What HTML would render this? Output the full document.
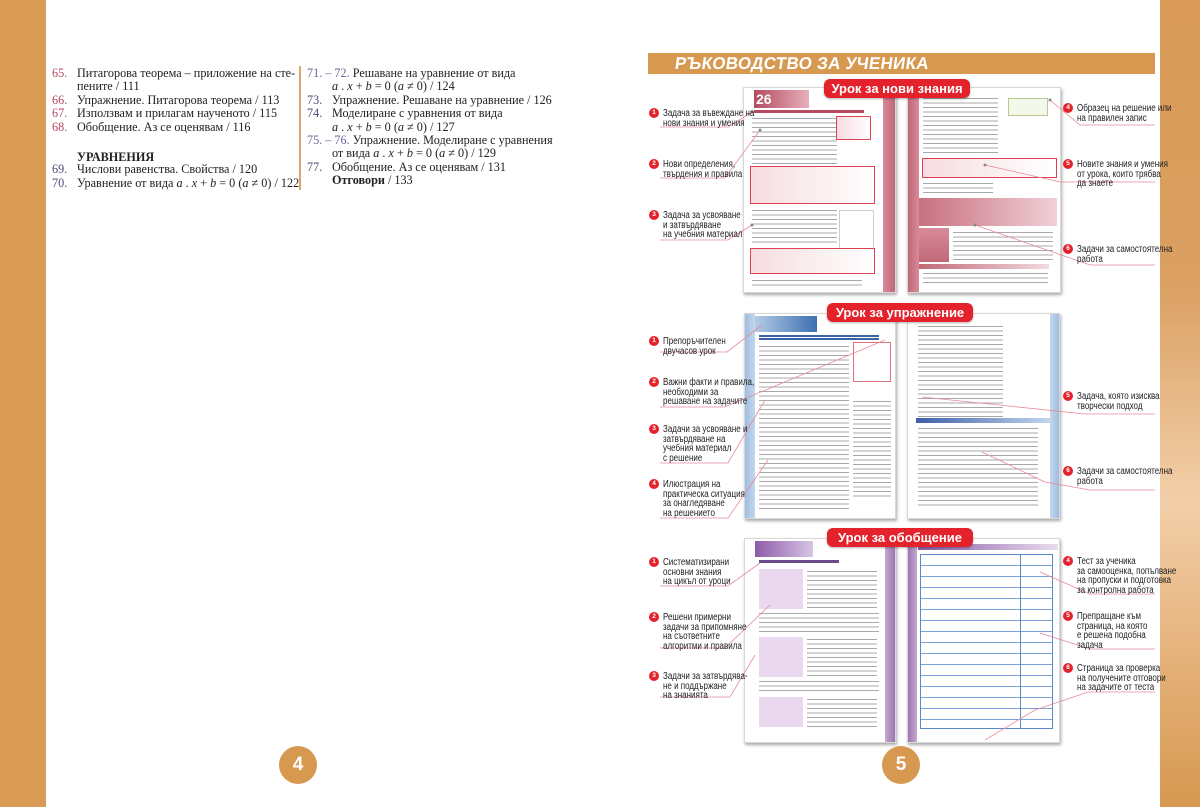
<!DOCTYPE html>
<html><head><meta charset="utf-8">
<style>
*{margin:0;padding:0;box-sizing:border-box}
body{width:1200px;height:807px;position:relative;background:#fff;overflow:hidden;font-family:"Liberation Sans",sans-serif}
.abs{position:absolute}
.toc{position:absolute;font-family:"Liberation Serif",serif;font-size:12.2px;line-height:13.4px;color:#222;white-space:nowrap}
.n1{color:#b5485e}.n2{color:#4c4c78}.n3{color:#6868a0}
.page{position:absolute;background:#fff;box-shadow:1px 2px 3px rgba(0,0,0,.35);border:1px solid #d8d8d8}
.tx{position:absolute;background:repeating-linear-gradient(#fff 0 2px,#a8a8a8 2px 3px,#fff 3px 4.5px)}
.pill{position:absolute;background:#e4222c;color:#fff;font-weight:bold;font-size:13px;text-align:center;border-radius:6px;line-height:19px;box-shadow:0 1px 2px rgba(0,0,0,.3)}
.lab{position:absolute;font-family:"Liberation Sans Narrow","Liberation Sans",sans-serif;font-size:10px;line-height:9.6px;color:#222;white-space:nowrap;transform:scaleX(.8);transform-origin:0 0}
.c{position:absolute;width:10px;height:10px;border-radius:50%;background:#e4222c;color:#fff;font-size:6.5px;font-weight:bold;text-align:center;line-height:10px;font-family:"Liberation Sans",sans-serif}
.pb{position:absolute;border:1px solid #e04050;background:linear-gradient(90deg,#f6dce0,#fff)}
.pn{position:absolute;width:38px;height:38px;border-radius:50%;background:#d6994f;color:#fff;font-weight:bold;font-size:19px;text-align:center;line-height:38px}
</style></head><body>
<div class="abs" style="left:0;top:0;width:46px;height:807px;background:#d89a55"></div>
<div class="abs" style="left:1160px;top:0;width:40px;height:807px;background:linear-gradient(#d89a55 0,#dba062 35%,#f2cfa9 62%,#e6b47e 80%,#d69850 100%)"></div>

<!-- TOC -->
<div class="toc" style="left:52px;top:67px">
<div><span class="n1">65.</span></div><div>&nbsp;</div><div><span class="n1">66.</span></div><div><span class="n1">67.</span></div><div><span class="n1">68.</span></div><div>&nbsp;</div><div style="height:16px"></div><div><span class="n2">69.</span></div><div><span class="n2">70.</span></div></div>
<div class="toc" style="left:77px;top:67px">
<div>Питагорова теорема – приложение на сте-</div><div>пените / 111</div><div>Упражнение. Питагорова теорема / 113</div><div>Използвам и прилагам наученото / 115</div><div>Обобщение. Аз се оценявам / 116</div><div>&nbsp;</div><div style="height:16px;line-height:20px;font-weight:bold">УРАВНЕНИЯ</div><div>Числови равенства. Свойства / 120</div><div>Уравнение от вида <i>a</i> . <i>x</i> + <i>b</i> = 0 (<i>a</i> ≠ 0) / 122</div></div>
<div class="abs" style="left:299px;top:66px;width:2px;height:124px;background:#dca56a"></div>
<div class="toc" style="left:307px;top:67px">
<div><span class="n3">71. – 72.</span> Решаване на уравнение от вида</div><div>&nbsp;</div><div><span class="n2">73.</span></div><div><span class="n2">74.</span></div><div>&nbsp;</div><div><span class="n3">75. – 76.</span> Упражнение. Моделиране с уравнения</div><div>&nbsp;</div><div><span class="n2">77.</span></div></div>
<div class="toc" style="left:332px;top:67px">
<div>&nbsp;</div><div><i>a</i> . <i>x</i> + <i>b</i> = 0 (<i>a</i> ≠ 0) / 124</div><div>Упражнение. Решаване на уравнение / 126</div><div>Моделиране с уравнения от вида</div><div><i>a</i> . <i>x</i> + <i>b</i> = 0 (<i>a</i> ≠ 0) / 127</div><div>&nbsp;</div><div>от вида <i>a</i> . <i>x</i> + <i>b</i> = 0 (<i>a</i> ≠ 0) / 129</div><div>Обобщение. Аз се оценявам / 131</div><div><b>Отговори</b> / 133</div></div>

<!-- header -->
<div class="abs" style="left:648px;top:53px;width:507px;height:21px;background:#d6994f"></div>
<div class="abs" style="left:675px;top:53px;color:#fff;font-weight:bold;font-size:17px;letter-spacing:0.3px;line-height:21px;transform:skewX(-8deg)">РЪКОВОДСТВО ЗА УЧЕНИКА</div>

<!-- SECTION 1 -->
<div class="page" style="left:743px;top:87px;width:153px;height:206px">
  <div class="abs" style="right:0;top:0;width:12px;height:204px;background:linear-gradient(90deg,#d88a98,#c06878)"></div>
  <div class="abs" style="left:10px;top:2px;width:55px;height:18px;background:linear-gradient(90deg,#b54a60,#e8b0bc)"></div>
  <div class="abs" style="left:12px;top:3px;color:#fff;font-weight:bold;font-size:14px">26</div>
  <div class="abs" style="left:10px;top:22px;width:110px;height:3px;background:#b54a60"></div>
  <div class="tx" style="left:8px;top:28px;width:85px;height:48px"></div>
  <div class="pb" style="left:92px;top:28px;width:35px;height:24px"></div>
  <div class="pb" style="left:6px;top:78px;width:125px;height:38px"></div>
  <div class="tx" style="left:8px;top:120px;width:85px;height:38px"></div>
  <div class="abs" style="left:95px;top:122px;width:35px;height:40px;border:1px solid #ccc"></div>
  <div class="pb" style="left:6px;top:160px;width:125px;height:26px"></div>
  <div class="tx" style="left:8px;top:190px;width:110px;height:10px"></div>
</div>
<div class="page" style="left:907px;top:87px;width:154px;height:206px">
  <div class="abs" style="left:0;top:0;width:11px;height:204px;background:linear-gradient(90deg,#c06878,#d88a98)"></div>
  <div class="tx" style="left:15px;top:8px;width:75px;height:60px"></div>
  <div class="abs" style="left:100px;top:10px;width:40px;height:18px;border:1px solid #b8c890;background:#f4f8ea"></div>
  <div class="pb" style="left:14px;top:70px;width:135px;height:20px"></div>
  <div class="tx" style="left:15px;top:93px;width:70px;height:12px"></div>
  <div class="abs" style="left:11px;top:110px;width:138px;height:28px;background:linear-gradient(90deg,#c8707f,#f0d0d6)"></div>
  <div class="abs" style="left:11px;top:140px;width:30px;height:34px;background:linear-gradient(180deg,#d88a98,#c06878)"></div>
  <div class="tx" style="left:45px;top:142px;width:100px;height:30px"></div>
  <div class="abs" style="left:11px;top:176px;width:130px;height:5px;background:linear-gradient(90deg,#c06878,#f3dbe0)"></div>
  <div class="tx" style="left:15px;top:183px;width:125px;height:15px"></div>
</div>
<div class="pill" style="left:824px;top:79px;width:146px;height:19px">Урок за нови знания</div>

<!-- SECTION 2 -->
<div class="page" style="left:744px;top:313px;width:152px;height:206px">
  <div class="abs" style="left:0;top:0;width:10px;height:204px;background:linear-gradient(90deg,#9fbde0,#c3d7ee)"></div>
  <div class="abs" style="left:10px;top:2px;width:62px;height:16px;background:linear-gradient(90deg,#b3cbe6,#3d6fb0)"></div>
  <div class="abs" style="left:14px;top:20px;width:120px;height:6px;background:repeating-linear-gradient(#fff 0 1px,#3b64a8 1px 3px)"></div>
  <div class="tx" style="left:14px;top:30px;width:90px;height:165px"></div>
  <div class="abs" style="left:108px;top:28px;width:38px;height:40px;border:1px solid #e07080"></div>
  <div class="tx" style="left:108px;top:85px;width:38px;height:100px"></div>
</div>
<div class="page" style="left:907px;top:313px;width:153px;height:206px">
  <div class="abs" style="right:0;top:0;width:9px;height:204px;background:linear-gradient(90deg,#c3d7ee,#9fbde0)"></div>
  <div class="tx" style="left:10px;top:10px;width:85px;height:95px"></div>
  <div class="abs" style="left:8px;top:104px;width:136px;height:5px;background:linear-gradient(90deg,#3d5fa8,#c3d7ee)"></div>
  <div class="tx" style="left:10px;top:112px;width:120px;height:80px"></div>
</div>
<div class="pill" style="left:827px;top:303px;width:146px;height:19px">Урок за упражнение</div>

<!-- SECTION 3 -->
<div class="page" style="left:744px;top:538px;width:152px;height:205px">
  <div class="abs" style="right:0;top:0;width:10px;height:203px;background:linear-gradient(90deg,#c4a8d0,#9c76b0)"></div>
  <div class="abs" style="left:10px;top:2px;width:58px;height:16px;background:linear-gradient(90deg,#8c5ca8,#d8c4e4)"></div>
  <div class="abs" style="left:14px;top:21px;width:80px;height:3px;background:#6a4a8a"></div>
  <div class="abs" style="left:14px;top:30px;width:44px;height:40px;background:#ead8ee"></div>
  <div class="tx" style="left:62px;top:30px;width:70px;height:40px"></div>
  <div class="tx" style="left:14px;top:72px;width:120px;height:24px"></div>
  <div class="abs" style="left:14px;top:98px;width:44px;height:40px;background:#ead8ee"></div>
  <div class="tx" style="left:62px;top:98px;width:70px;height:40px"></div>
  <div class="tx" style="left:14px;top:140px;width:120px;height:14px"></div>
  <div class="abs" style="left:14px;top:158px;width:44px;height:30px;background:#ead8ee"></div>
  <div class="tx" style="left:62px;top:158px;width:70px;height:30px"></div>
</div>
<div class="page" style="left:907px;top:538px;width:153px;height:205px">
  <div class="abs" style="left:0;top:0;width:9px;height:203px;background:linear-gradient(90deg,#9c76b0,#c4a8d0)"></div>
  <div class="abs" style="left:10px;top:5px;width:140px;height:6px;background:linear-gradient(90deg,#8c5ca8,#e8dcef)"></div>
  <div class="abs" style="left:12px;top:15px;width:133px;height:175px;border:1px solid #5a88c8;background:repeating-linear-gradient(#fff 0 10px,#7aa0d8 10px 11px)"></div>
  <div class="abs" style="left:112px;top:15px;width:1px;height:175px;background:#5a88c8"></div>
</div>
<div class="pill" style="left:827px;top:528px;width:146px;height:19px">Урок за обобщение</div>

<!-- page footer numbers -->
<div class="pn" style="left:279px;top:746px">4</div>
<div class="pn" style="left:882px;top:746px">5</div>

<!-- connectors -->
<svg class="abs" style="left:0;top:0" width="1200" height="807">
<g fill="none" stroke="#e88a98" stroke-width="0.8">
<path d="M660 127 H728 L752 112"/>
<path d="M660 178 H725 L760 130"/>
<path d="M660 240 H728 L752 225"/>
<path d="M1155 125 H1080 L1050 100"/>
<path d="M1155 182 H1060 L985 165"/>
<path d="M1155 265 H1090 L975 225"/>
<path d="M660 352 H727 L762 325"/>
<path d="M660 407 H725 L885 340"/>
<path d="M660 463 H728 L765 400"/>
<path d="M660 518 H728 L768 460"/>
<path d="M1155 414 H1085 L922 397"/>
<path d="M1155 490 H1090 L1045 482 L982 452"/>
<path d="M660 586 H728 L760 563"/>
<path d="M660 648 H725 L770 605"/>
<path d="M660 697 H730 L755 655"/>
<path d="M1155 594 H1090 L1040 572"/>
<path d="M1155 649 H1090 L1040 633"/>
<path d="M1155 692 H1088 L1035 710 L985 740"/>
</g>
<g fill="#888"><circle cx="752" cy="112" r="1.5"/><circle cx="760" cy="130" r="1.5"/><circle cx="752" cy="225" r="1.5"/><circle cx="1050" cy="100" r="1.5"/><circle cx="985" cy="165" r="1.5"/><circle cx="975" cy="225" r="1.5"/></g>
</svg>

<!-- labels section 1 -->
<div class="c" style="left:649px;top:108px">1</div><div class="lab" style="left:663px;top:109px">Задача за въвеждане на<br>нови знания и умения</div>
<div class="c" style="left:649px;top:159px">2</div><div class="lab" style="left:663px;top:160px">Нови определения,<br>твърдения и правила</div>
<div class="c" style="left:649px;top:210px">3</div><div class="lab" style="left:663px;top:211px">Задача за усвояване<br>и затвърдяване<br>на учебния материал</div>
<div class="c" style="left:1063px;top:103px">4</div><div class="lab" style="left:1077px;top:104px">Образец на решение или<br>на правилен запис</div>
<div class="c" style="left:1063px;top:159px">5</div><div class="lab" style="left:1077px;top:160px">Новите знания и умения<br>от урока, които трябва<br>да знаете</div>
<div class="c" style="left:1063px;top:244px">6</div><div class="lab" style="left:1077px;top:245px">Задачи за самостоятелна<br>работа</div>

<!-- labels section 2 -->
<div class="c" style="left:649px;top:336px">1</div><div class="lab" style="left:663px;top:337px">Препоръчителен<br>двучасов урок</div>
<div class="c" style="left:649px;top:377px">2</div><div class="lab" style="left:663px;top:378px">Важни факти и правила,<br>необходими за<br>решаване на задачите</div>
<div class="c" style="left:649px;top:424px">3</div><div class="lab" style="left:663px;top:425px">Задачи за усвояване и<br>затвърдяване на<br>учебния материал<br>с решение</div>
<div class="c" style="left:649px;top:479px">4</div><div class="lab" style="left:663px;top:480px">Илюстрация на<br>практическа ситуация<br>за онагледяване<br>на решението</div>
<div class="c" style="left:1063px;top:391px">5</div><div class="lab" style="left:1077px;top:392px">Задача, която изисква<br>творчески подход</div>
<div class="c" style="left:1063px;top:466px">6</div><div class="lab" style="left:1077px;top:467px">Задачи за самостоятелна<br>работа</div>

<!-- labels section 3 -->
<div class="c" style="left:649px;top:557px">1</div><div class="lab" style="left:663px;top:558px">Систематизирани<br>основни знания<br>на цикъл от уроци</div>
<div class="c" style="left:649px;top:612px">2</div><div class="lab" style="left:663px;top:613px">Решени примерни<br>задачи за припомняне<br>на съответните<br>алгоритми и правила</div>
<div class="c" style="left:649px;top:671px">3</div><div class="lab" style="left:663px;top:672px">Задачи за затвърдява-<br>не и поддържане<br>на знанията</div>
<div class="c" style="left:1063px;top:556px">4</div><div class="lab" style="left:1077px;top:557px">Тест за ученика<br>за самооценка, попълване<br>на пропуски и подготовка<br>за контролна работа</div>
<div class="c" style="left:1063px;top:611px">5</div><div class="lab" style="left:1077px;top:612px">Препращане към<br>страница, на която<br>е решена подобна<br>задача</div>
<div class="c" style="left:1063px;top:663px">6</div><div class="lab" style="left:1077px;top:664px">Страница за проверка<br>на получените отговори<br>на задачите от теста</div>
</body></html>
